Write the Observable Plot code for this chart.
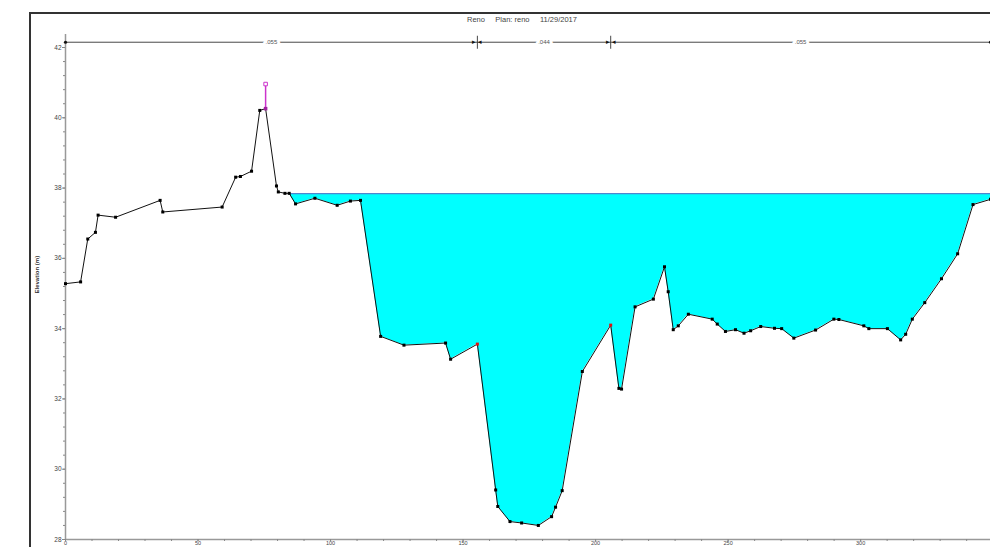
<!DOCTYPE html>
<html><head><meta charset="utf-8">
<script src="https://cdn.jsdelivr.net/npm/d3@7"></script>
<script src="https://cdn.jsdelivr.net/npm/@observablehq/plot@0.6"></script>
<style>
html,body{margin:0;padding:0;background:#fff;overflow:hidden;width:990px;height:547px;}
#wrap{position:relative;width:990px;height:547px;}
#chart{position:absolute;left:0;top:0;}
#frame{position:absolute;left:29px;top:12px;width:970px;height:600px;border-left:2px solid #333;border-top:2px solid #333;}
#title{position:absolute;top:15px;left:467px;font:7.5px "Liberation Sans",Arial,sans-serif;color:#444;white-space:pre;}
</style></head>
<body><div id="wrap"><div id="chart"></div><div id="frame"></div><div id="title">Reno     Plan: reno     11/29/2017</div></div>
<script>
// Ground profile (station m, elevation m)
const station = [0, 5.7, 8.4, 11.3, 12.3, 18.9, 35.7, 36.7, 59.1, 64.2,
  66.0, 70.2, 73.3, 75.5, 79.6, 80.3, 82.8, 84.4, 86.8, 94.1,
  102.5, 107.5, 111.3, 118.9, 127.7, 143.4, 145.3, 155.4, 162.3, 163.1,
  167.7, 172.1, 178.4, 183.4, 184.9, 187.4, 195.0, 205.7, 208.8, 209.8,
  214.9, 221.8, 226.0, 227.4, 229.3, 231.2, 235.0, 244.0, 245.9, 249.0,
  252.8, 256.0, 258.5, 262.3, 267.5, 270.2, 274.8, 283.0, 289.9, 291.8,
  301.2, 303.1, 310.1, 315.1, 317.0, 319.5, 324.2, 330.5, 336.6, 342.4, 349.0];
const elevation = [35.28, 35.33, 36.55, 36.74, 37.23, 37.17, 37.65, 37.32, 37.46, 38.31,
  38.33, 38.48, 40.21, 40.26, 38.06, 37.89, 37.85, 37.85, 37.55, 37.71,
  37.51, 37.63, 37.65, 33.78, 33.53, 33.59, 33.13, 33.56, 29.41, 28.94,
  28.51, 28.47, 28.40, 28.65, 28.92, 29.39, 32.78, 34.10, 32.30, 32.28,
  34.62, 34.84, 35.76, 35.05, 33.97, 34.08, 34.41, 34.27, 34.13, 33.92,
  33.97, 33.87, 33.94, 34.06, 34.01, 34.00, 33.73, 33.96, 34.27, 34.26,
  34.08, 34.00, 34.00, 33.68, 33.84, 34.27, 34.74, 35.42, 36.13, 37.53, 37.68];
const waterSurface = 37.84;
const waterStart = 84.4;
const leveeStation = 75.5;
const leveeTop = 40.96;
const bankStations = [155.4, 205.7];
const nValues = [".055", ".044", ".055"];
const nBreaks = [0, 155.4, 205.7, 349];
const nLineElev = 42.15;
const xTicks = [0, 50, 100, 150, 200, 250, 300];
const xMinor = d3.range(0, 341, 10);
const yTicks = [28, 30, 32, 34, 36, 38, 40, 42];
const yMinor = d3.range(28, 42.01, 0.4).map(v => +v.toFixed(1));

const ground = station.map((s, i) => ({s, e: elevation[i]}));
const wet = ground.filter(d => d.s >= waterStart);
const bankPts = ground.filter(d => bankStations.includes(d.s));
const plainPts = ground.filter(d => !bankStations.includes(d.s) && d.s !== leveeStation);
const leveeGround = ground.find(d => d.s === leveeStation);
const nSegs = nValues.map((v, i) => ({v, mid: (nBreaks[i] + nBreaks[i + 1]) / 2}));

const chart = Plot.plot({
  width: 990, height: 547,
  marginLeft: 65, marginRight: 0, marginTop: 47, marginBottom: 8,
  x: {domain: [0, 349]},
  y: {domain: [28, 42]},
  style: {background: "transparent", maxWidth: "none", overflow: "visible", fontFamily: "Liberation Sans, Arial, sans-serif", color: "#444"},
  marks: [
    // water
    Plot.areaY(wet, {x: "s", y1: d => Math.min(d.e, waterSurface), y2: waterSurface, fill: "#00FFFF"}),
    Plot.ruleY([waterSurface], {x1: waterStart, x2: 349, stroke: "#4f86cf", strokeWidth: 1.3}),
    // axes
    Plot.ruleX([0], {y1: 28, y2: 42.37, stroke: "#999", strokeWidth: 1.5}),
    Plot.ruleY([28], {stroke: "#999", strokeWidth: 1.5}),
    Plot.axisY(yMinor, {tickSize: 2, tickFormat: () => "", stroke: "#888", label: null}),
    Plot.axisY(yTicks, {tickSize: 3, tickPadding: 1, fontSize: 6.5, fill: "#444", stroke: "#888", label: null, tickFormat: d => String(d)}),
    Plot.axisX(xMinor, {tickSize: 2, tickFormat: () => "", stroke: "#888", label: null}),
    Plot.axisX(xTicks, {tickSize: 2, tickPadding: 0, fontSize: 5.5, fill: "#444", stroke: "#888", label: null, tickFormat: d => String(d)}),
    Plot.text(["Elevation (m)"], {frameAnchor: "left", dx: -28, rotate: -90, fontSize: 6, fill: "#333", fontWeight: "bold"}),
    // ground
    Plot.line(ground, {x: "s", y: "e", stroke: "#111", strokeWidth: 1}),
    Plot.dot(plainPts, {x: "s", y: "e", symbol: "square", r: 1.7, fill: "#000", stroke: null}),
    Plot.dot(bankPts, {x: "s", y: "e", symbol: "square", r: 1.7, fill: "#e01010", stroke: null}),
    // levee
    Plot.ruleX([leveeStation], {y1: leveeGround.e, y2: leveeTop, stroke: "#cc33cc", strokeWidth: 1.5}),
    Plot.dot([leveeGround], {x: "s", y: "e", symbol: "square", r: 2, fill: "#a020a0", stroke: null}),
    Plot.dot([{s: leveeStation, e: leveeTop}], {x: "s", y: "e", symbol: "square", r: 2, fill: "white", stroke: "#cc33cc", strokeWidth: 1}),
    // Manning's n bar
    Plot.ruleY([nLineElev], {x1: 0, x2: 349, stroke: "#333", strokeWidth: 0.9}),
    Plot.ruleX(bankStations, {y1: nLineElev - 0.2, y2: nLineElev + 0.17, stroke: "#333", strokeWidth: 0.9}),
    Plot.text(bankStations, {x: d => d, y: nLineElev, text: () => "\u25B8", dx: -3, fontSize: 7, fill: "#111"}),
    Plot.text(bankStations, {x: d => d, y: nLineElev, text: () => "\u25C2", dx: 3, fontSize: 7, fill: "#111"}),
    Plot.dot([0, 349], {x: d => d, y: nLineElev, r: 1.6, fill: "#111"}),
    Plot.text(nSegs, {x: "mid", y: nLineElev, text: "v", fontSize: 6, fill: "#555", stroke: "white", strokeWidth: 6})
  ]
});
document.getElementById("chart").appendChild(chart);
</script>
</body></html>
